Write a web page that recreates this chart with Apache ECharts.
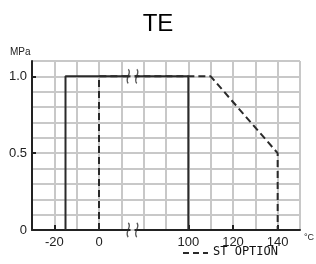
<!DOCTYPE html>
<html>
<head>
<meta charset="utf-8">
<script src="https://cdn.jsdelivr.net/npm/echarts@6/dist/echarts.min.js"></script>
<style>
  html, body { margin: 0; padding: 0; background: #fff; }
  #chart { width: 316px; height: 264px; }
</style>
</head>
<body>
<div id="chart"></div>
<script>
// temperature (°C) vs pressure (MPa)
const teTemp = [-15, -15, 100, 100];
const tePress = [0, 1.0, 1.0, 0];
const stTemp = [0, 0, 110, 140, 140];
const stPress = [0, 1.0, 1.0, 0.5, 0];
const xTicks = [-20, 0, 100, 120, 140];
const yTicks = [0, 0.5, 1.0];
const breakAt = 15;          // where the axis is cut (display units)
const breakPress = [0, 1.0];

// the axis is broken between 0 and 100: 0..100 shown as 0..40
function disp(t) { return t <= 0 ? t : (t >= 100 ? t - 60 : t * 0.4); }
function real(d) { return d <= 0 ? d : d + 60; }

const chart = echarts.init(document.getElementById('chart'));
const font = 'Liberation Sans, Arial, sans-serif';
const ink = '#2a2a2a';
const squiggle = 'path://M3,0 C6,3 0,8 3,12 M9,0 C12,3 6,8 9,12';
const xShown = xTicks.map(disp);
const gridLine = { show: true, lineStyle: { color: '#c8c8c8', width: 2 } };

// axes that only draw the grid lines, one every 10 °C / 0.1 MPa
const gridOnly = {
  axisLine: { show: false, onZero: false }, axisTick: { show: false },
  axisLabel: { show: false }, splitLine: gridLine
};

chart.setOption({
  backgroundColor: '#fff',
  animation: false,
  title: {
    text: 'TE', left: 'center', top: 7,
    textStyle: { fontSize: 24, fontWeight: 'normal', color: '#000', fontFamily: font }
  },
  grid: { left: 32, right: 16, top: 61, bottom: 34 },
  xAxis: [{
    type: 'value', min: -30, max: 90, z: 3,
    axisLine: { onZero: false, lineStyle: { color: '#222', width: 2 } },
    axisTick: { inside: true, length: 5, customValues: xShown, lineStyle: { color: '#222', width: 2 } },
    axisLabel: {
      customValues: xShown, margin: 6, fontSize: 13, color: '#222', fontFamily: font,
      formatter: v => String(real(v))
    },
    splitLine: { show: false }
  }, Object.assign({ type: 'value', min: -30, max: 90, interval: 10, z: 0 }, gridOnly)],
  yAxis: [{
    type: 'value', min: 0, max: 1.1, z: 3,
    axisLine: { show: true, onZero: false, lineStyle: { color: '#222', width: 2 } },
    axisTick: { show: true, inside: true, length: 4, customValues: [0.5, 1.0], lineStyle: { color: '#222', width: 2 } },
    axisLabel: {
      customValues: yTicks, margin: 5, fontSize: 13, color: '#222', fontFamily: font,
      formatter: v => v === 0 ? '0' : v.toFixed(1)
    },
    splitLine: { show: false }
  }, Object.assign({ type: 'value', min: 0, max: 1.1, interval: 0.1, z: 0 }, gridOnly)],
  graphic: [
    { type: 'text', left: 10, top: 47, style: { text: 'MPa', fontSize: 10, fill: '#222', fontFamily: font } },
    { type: 'text', left: 304, top: 233, style: { text: '°C', fontSize: 9, fill: '#222', fontFamily: font } },
    // legend for the dashed ST OPTION curve
    { type: 'line', shape: { x1: 183, y1: 253, x2: 208, y2: 253 },
      style: { stroke: ink, lineWidth: 2, lineDash: [6, 4] } },
    { type: 'text', left: 213, top: 246, style: { text: 'ST OPTION', fontSize: 12, fill: '#111', fontFamily: 'DejaVu Sans Mono, monospace' } }
  ],
  series: [
    {
      name: 'ST OPTION', type: 'line', symbol: 'none', z: 4,
      data: stTemp.map((t, i) => [disp(t), stPress[i]]),
      lineStyle: { color: ink, width: 2, type: [7, 4] }
    },
    {
      name: 'TE', type: 'line', symbol: 'none', z: 5,
      data: teTemp.map((t, i) => [disp(t), tePress[i]]),
      lineStyle: { color: ink, width: 2 }
    },
    {
      name: 'gap', type: 'scatter', z: 6, symbol: 'rect', symbolSize: [4, 6],
      data: breakPress.map(p => [breakAt, p]),
      itemStyle: { color: '#fff' }, silent: true
    },
    {
      name: 'break', type: 'scatter', z: 7, symbol: squiggle, symbolSize: [11, 14],
      data: breakPress.map(p => [breakAt, p]),
      itemStyle: { color: 'transparent', borderColor: ink, borderWidth: 1.5 }, silent: true
    }
  ]
});
</script>
</body>
</html>
